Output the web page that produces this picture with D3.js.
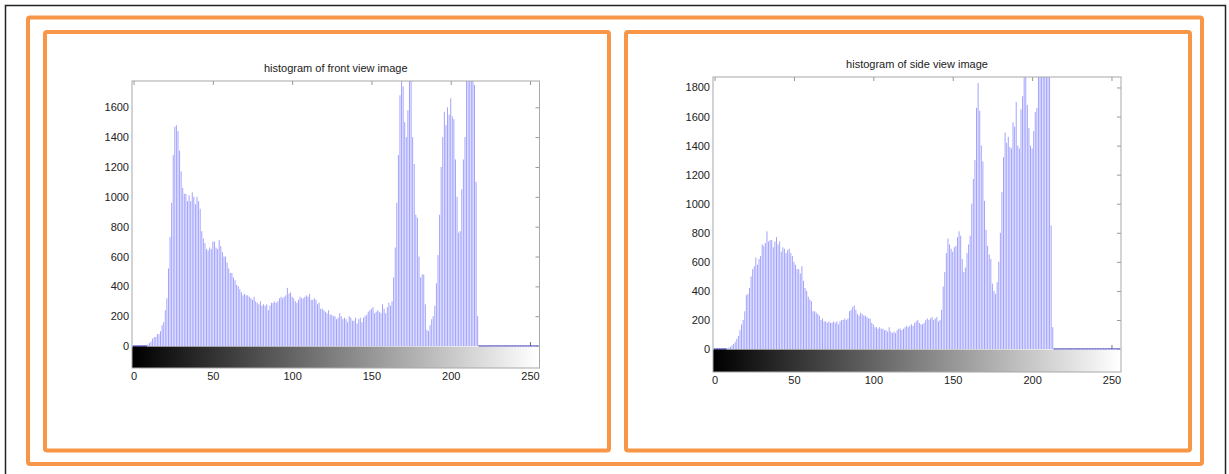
<!DOCTYPE html>
<html>
<head>
<meta charset="utf-8">
<script src="https://cdn.jsdelivr.net/npm/d3@7"></script>
<style>
  body { margin: 0; background: #fff; }
  svg { display: block; }
  .tick text { font-family: "Liberation Sans", Arial, sans-serif; font-size: 11px; fill: #222; }
</style>
</head>
<body>
<svg id="chart" width="1229" height="474"></svg>
<script>
// grey level bins 0..255, pixel counts
const frontCounts = [
  0,0,0,0,0,0,0,0,0,10,20,30,50,60,60,80,
  80,100,140,160,240,320,520,730,960,1280,1470,1480,1440,1310,1170,1060,
  1020,1020,970,1010,970,1030,1000,950,1000,970,920,770,720,690,650,640,
  660,650,700,700,660,650,710,670,630,600,600,560,520,490,490,460,
  440,410,400,380,360,340,350,340,340,330,320,310,330,300,290,280,
  300,270,280,270,280,240,270,290,290,300,290,300,320,330,320,330,
  340,390,350,360,330,320,300,290,310,330,320,320,330,340,330,350,
  310,310,320,310,280,290,250,250,240,230,220,240,210,210,200,200,
  180,190,220,200,180,190,180,160,200,190,170,170,190,150,180,190,
  160,190,200,210,230,240,250,260,220,230,240,230,220,280,250,220,
  260,290,270,300,460,660,960,1280,1680,1800,1740,1500,1400,1580,1800,1800,
  1400,1220,880,860,600,460,480,480,280,110,100,140,180,200,270,420,
  610,880,1200,1400,1570,1480,1600,1550,1660,1540,1520,1250,1000,760,770,1050,
  1250,1400,1800,1800,1800,1800,1800,1750,1100,200,0,0,0,0,0,0,
  0,0,0,0,0,0,0,0,0,0,0,0,0,0,0,0,
  0,0,0,0,0,0,0,0,0,0,0,0,0,0,0,0
];

const sideCounts = [
  0,0,0,0,0,0,0,0,5,10,15,25,35,50,70,90,
  130,170,200,260,370,380,420,500,550,570,630,580,620,640,720,710,
  730,810,740,750,750,700,740,770,720,740,670,700,690,660,680,690,
  660,640,600,580,550,550,520,570,470,420,400,360,340,330,260,260,
  250,240,230,200,210,190,190,180,190,180,180,190,180,190,170,190,
  200,200,210,200,210,260,270,290,300,270,240,230,250,240,230,230,
  220,210,210,180,170,150,150,140,150,140,140,130,130,120,150,120,
  110,120,110,130,140,140,130,140,150,160,150,160,170,160,180,190,
  200,180,170,170,180,200,210,200,210,220,200,210,220,190,200,270,
  430,530,660,760,720,690,670,700,710,770,810,780,620,530,560,660,
  720,780,1000,1170,1300,1660,1830,1640,1400,1290,1020,820,710,650,620,450,
  400,380,460,600,800,1080,1320,1490,1420,1460,1390,1380,1560,1530,1700,1400,
  1380,1650,1740,1900,1900,1680,1520,1400,1380,1500,1630,1660,1900,1900,1900,1900,
  1900,1900,1900,1900,850,150,0,0,0,0,0,0,0,0,0,0,
  0,0,0,0,0,0,0,0,0,0,0,0,0,0,0,0,
  0,0,0,0,0,0,0,0,0,0,0,0,0,0,0,0
];

const xTickValues = [0, 50, 100, 150, 200, 250];
const frontYTicks = [0, 200, 400, 600, 800, 1000, 1200, 1400, 1600];
const sideYTicks = [0, 200, 400, 600, 800, 1000, 1200, 1400, 1600, 1800];
const titles = ["histogram of front view image", "histogram of side view image"];

const svg = d3.select("#chart");
const orange = "#f79646";

// page frames
svg.append("rect").attr("x", 5.5).attr("y", 5.5).attr("width", 1220).attr("height", 480)
  .attr("fill", "none").attr("stroke", "#222").attr("stroke-width", 1.5);
svg.append("rect").attr("x", 28).attr("y", 17.5).attr("width", 1174).attr("height", 446.5)
  .attr("fill", "none").attr("stroke", orange).attr("stroke-width", 4).attr("rx", 2);
svg.append("rect").attr("x", 45).attr("y", 32).attr("width", 564).attr("height", 418.5)
  .attr("fill", "none").attr("stroke", orange).attr("stroke-width", 4).attr("rx", 2);
svg.append("rect").attr("x", 626).attr("y", 32).attr("width", 564).attr("height", 418.5)
  .attr("fill", "none").attr("stroke", orange).attr("stroke-width", 4).attr("rx", 2);

const defs = svg.append("defs");

function drawHist(id, counts, yTicks, title, box, yDomain) {
  const x = d3.scaleLinear().domain([-1, 256]).range([box.left, box.right]);
  const y = d3.scaleLinear().domain(yDomain).range([box.bottom, box.top]);
  const g = svg.append("g");

  // grey ramp for the colour bar
  const grad = defs.append("linearGradient").attr("id", "ramp" + id)
    .attr("gradientUnits", "userSpaceOnUse")
    .attr("x1", x(0)).attr("x2", x(255)).attr("y1", 0).attr("y2", 0);
  grad.append("stop").attr("offset", 0).attr("stop-color", "#000");
  grad.append("stop").attr("offset", 1).attr("stop-color", "#fff");

  defs.append("clipPath").attr("id", "clip" + id).append("rect")
    .attr("x", box.left).attr("y", box.top)
    .attr("width", box.right - box.left).attr("height", box.bottom - box.top);

  // top and right tick marks, pointing inwards
  g.append("g").attr("transform", `translate(0,${box.top})`)
    .call(d3.axisTop(x).tickValues(xTickValues).tickSize(-4).tickFormat(""))
    .call(a => a.select(".domain").remove())
    .call(a => a.selectAll("line").attr("stroke", "#999"));
  g.append("g").attr("transform", `translate(${box.right},0)`)
    .call(d3.axisRight(y).tickValues(yTicks.concat([yDomain[0] / 2])).tickSize(-4).tickFormat(""))
    .call(a => a.select(".domain").remove())
    .call(a => a.selectAll("line").attr("stroke", "#999"));
  g.append("g").attr("transform", `translate(0,${y(0)})`)
    .call(d3.axisBottom(x).tickValues([250]).tickSize(-4).tickFormat(""))
    .call(a => a.select(".domain").remove())
    .call(a => a.selectAll("line").attr("stroke", "#777"));

  const plot = g.append("g").attr("clip-path", `url(#clip${id})`);
  // stems
  plot.selectAll("line.stem").data(counts.map((v, i) => ({ i, v })).filter(d => d.v > 0))
    .join("line").attr("class", "stem")
    .attr("x1", d => x(d.i)).attr("x2", d => x(d.i))
    .attr("y1", y(0)).attr("y2", d => y(d.v))
    .attr("stroke", "#a2a2ff").attr("stroke-width", 1);
  // zero-count bins show as the dark baseline
  plot.selectAll("line.zero").data(counts.map((v, i) => ({ i, v })).filter(d => d.v === 0))
    .join("line").attr("class", "zero")
    .attr("x1", d => x(d.i - 0.5)).attr("x2", d => x(d.i + 0.5))
    .attr("y1", y(0)).attr("y2", y(0))
    .attr("stroke", "#2020b0").attr("stroke-width", 1.2);

  // colour bar
  g.append("rect").attr("x", box.left).attr("y", y(0) + 0.5)
    .attr("width", box.right - box.left).attr("height", box.bottom - y(0) - 0.5)
    .attr("fill", `url(#ramp${id})`);

  // box
  g.append("rect").attr("x", box.left).attr("y", box.top)
    .attr("width", box.right - box.left).attr("height", box.bottom - box.top)
    .attr("fill", "none").attr("stroke", "#a8a8a8").attr("stroke-width", 1);

  // labels
  g.append("g").attr("transform", `translate(${box.left},0)`)
    .call(d3.axisLeft(y).tickValues(yTicks).tickSize(0).tickPadding(3).tickFormat(d3.format("d")))
    .call(a => a.select(".domain").remove());
  g.append("g").attr("transform", `translate(0,${box.bottom})`)
    .call(d3.axisBottom(x).tickValues(xTickValues).tickSize(0).tickPadding(4).tickFormat(d3.format("d")))
    .call(a => a.select(".domain").remove());

  g.append("text").attr("x", (box.left + box.right) / 2).attr("y", box.top - 9)
    .attr("text-anchor", "middle")
    .style("font-family", '"Liberation Sans", Arial, sans-serif')
    .style("font-size", "11px").attr("fill", "#222")
    .text(title);
}

drawHist("F", frontCounts, frontYTicks, titles[0],
  { left: 132, right: 539.5, top: 81, bottom: 368 }, [-147, 1776]);
drawHist("S", sideCounts, sideYTicks, titles[1],
  { left: 713, right: 1121, top: 77, bottom: 372 }, [-158, 1872]);
</script>
</body>
</html>
